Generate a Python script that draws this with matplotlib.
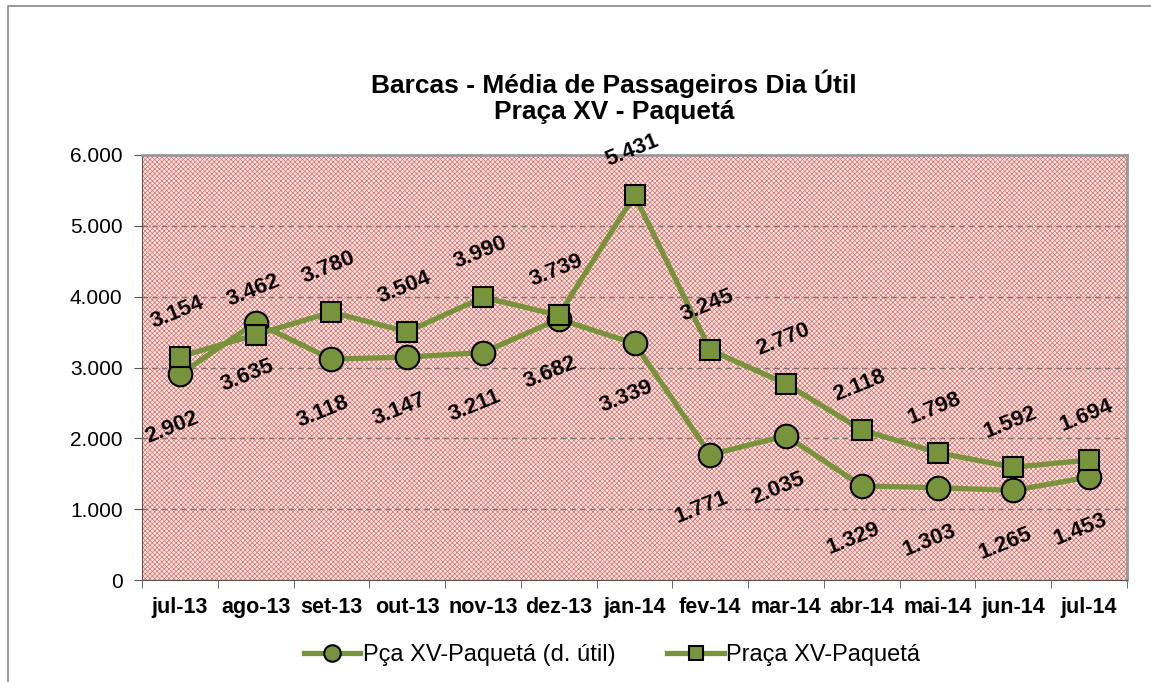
import numpy as np
import matplotlib.pyplot as plt
from matplotlib.patches import Rectangle
from matplotlib.ticker import FuncFormatter

plt.rcParams['font.family'] = ['Liberation Sans', 'DejaVu Sans']
plt.rcParams['hatch.linewidth'] = 0.5

meses = ['jul-13', 'ago-13', 'set-13', 'out-13', 'nov-13', 'dez-13', 'jan-14',
         'fev-14', 'mar-14', 'abr-14', 'mai-14', 'jun-14', 'jul-14']
dia_util = [2902, 3635, 3118, 3147, 3211, 3682, 3339, 1771, 2035, 1329, 1303, 1265, 1453]
media = [3154, 3462, 3780, 3504, 3990, 3739, 5431, 3245, 2770, 2118, 1798, 1592, 1694]

verde = '#77933C'

def milhar(v):
    return f'{int(v):,}'.replace(',', '.')

fig = plt.figure(figsize=(11.51, 6.82), dpi=100)
ax = fig.add_axes([142 / 1151, 1 - 580 / 682, (1127 - 142) / 1151, (580 - 155) / 682])

# moldura externa do gráfico
fig.patches.append(Rectangle((8 / 1151, -0.1), 1.2, 0.1 + (682 - 6) / 682,
                             transform=fig.transFigure, fill=False,
                             edgecolor='#888888', linewidth=1.2))

# fundo quadriculado vermelho
ax.set_facecolor('white')
ax.add_patch(Rectangle((0, 0), 1, 1, transform=ax.transAxes, facecolor='#fce8e6',
                       edgecolor='#e06a64', hatch='xxxxxxx', linewidth=0, zorder=0))

x = np.arange(len(meses))
ax.plot(x, dia_util, color=verde, lw=3.8, marker='o', ms=17, mfc=verde,
        mec='black', mew=1.5, label='Pça XV-Paquetá (d. útil)', zorder=3)
ax.plot(x, media, color=verde, lw=3.8, marker='s', ms=15, mfc=verde,
        mec='black', mew=1.5, label='Praça XV-Paquetá', zorder=3)

for xi, v in zip(x, media):
    ax.annotate(milhar(v), (xi, v), xytext=(-2, 32), textcoords='offset points',
                ha='center', va='center', rotation=22, fontsize=16,
                fontweight='bold', zorder=4)
for xi, v in zip(x, dia_util):
    ax.annotate(milhar(v), (xi, v), xytext=(-6, -38), textcoords='offset points',
                ha='center', va='center', rotation=22, fontsize=16,
                fontweight='bold', zorder=4)

ax.set_xlim(-0.5, len(meses) - 0.5)
ax.set_ylim(0, 6000)
ax.set_yticks(np.arange(0, 6001, 1000))
ax.yaxis.set_major_formatter(FuncFormatter(lambda v, p: milhar(v)))
ax.set_xticks(x)
ax.set_xticklabels(meses, fontweight='bold', fontsize=15.5)
ax.set_xticks(np.arange(-0.5, len(meses), 1), minor=True)
ax.tick_params(axis='x', which='major', length=0, pad=12)
ax.tick_params(axis='x', which='minor', length=6, color='#555555')
ax.tick_params(axis='y', labelsize=15, length=6, color='#555555', pad=8)
ax.yaxis.grid(True, linestyle=(0, (4, 3)), color='#777777', lw=1, zorder=1)
ax.set_axisbelow(True)
for s in ['top', 'right']:
    ax.spines[s].set_color('#999999')
    ax.spines[s].set_linewidth(2)
for s in ['left', 'bottom']:
    ax.spines[s].set_color('#555555')

fig.text(614 / 1151, 1 - 97 / 682, 'Barcas - Média de Passageiros Dia Útil\nPraça XV - Paquetá',
         ha='center', va='center', fontsize=19, fontweight='bold', linespacing=1.1)

fig.legend(loc='center', bbox_to_anchor=(612 / 1151, 1 - 655 / 682), ncol=2,
           frameon=False, fontsize=17, handlelength=2.4, columnspacing=2.2,
           handletextpad=0.1, markerscale=0.7)

fig.savefig('out.png', dpi=100)
